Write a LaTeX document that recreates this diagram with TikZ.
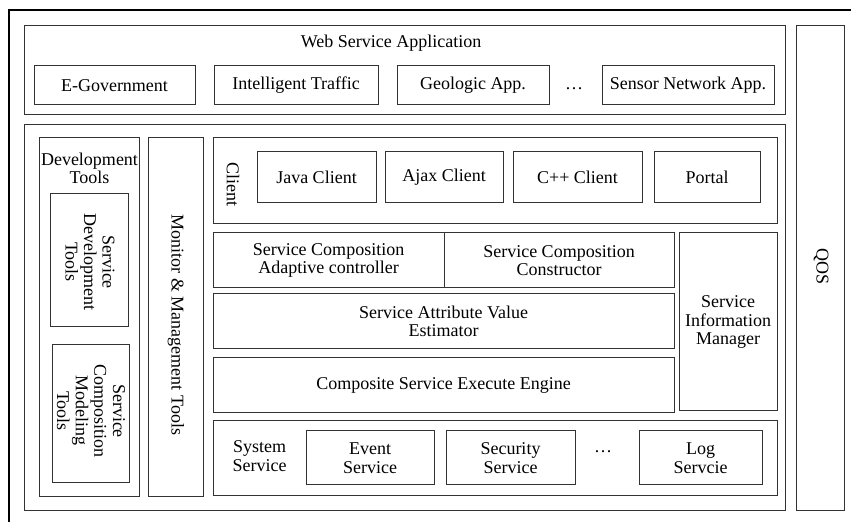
\documentclass[tikz,border=0pt]{standalone}
\usepackage{fontspec}
\setmainfont{Liberation Serif}
\newfontfamily\timesfont{Liberation Serif}

\begin{document}
\begin{tikzpicture}[x=0.5pt,y=-0.5pt,
    box/.style={draw=black!80, line width=0.5pt, inner sep=0pt, align=center},
    wh/.style 2 args={minimum width=#1*0.5pt, minimum height=#2*0.5pt},
    txt/.style={inner sep=0pt, align=center},
    font=\timesfont\fontsize{9}{9.3}\selectfont]

    \useasboundingbox (0,0) rectangle (851,522);

    % Frame
    \draw[line width=0.6pt] (851,10) -- (9,10) -- (9,522);

    % Applications
    \node[box, wh={761}{89}] (wsa) at (404.5,70.5) {};
    \node[txt] (wsatitle) at (391,43) {Web Service Application};
    \node[box, wh={161}{39}] (egov) at (114.5,85.5) {E-Government};
    \node[box, wh={164}{39}] (traffic) at (296,85.5) {Intelligent Traffic};
    \node[box, wh={152}{39}] (geo) at (473,85.5) {Geologic App.};
    \node[txt] (appdots) at (574,89) {\dots};
    \node[box, wh={172}{39}] (sensor) at (688,85.5) {Sensor Network App.};

    % QOS
    \node[box, wh={48}{485}] (qos) at (820,268.5) {};
    \node[txt, rotate=-90] (qostext) at (821,267) {QOS};

    % Platform
    \node[box, wh={761}{386}] (platform) at (404.5,318) {};

    % Tools
    \node[box, wh={100}{359}] (devtools) at (89,317.5) {};
    \node[txt] (devtext) at (89.5,168.5) {Development\\Tools};
    \node[box, wh={78}{133}] (sdt) at (89,260.5) {};
    \node[txt, rotate=-90] (sdttext) at (90,262) {Service\\Development\\Tools};
    \node[box, wh={77}{138}] (scmt) at (90.5,414) {};
    \node[txt, rotate=-90] (scmttext) at (91,411) {Service\\Composition\\Modeling\\Tools};
    \node[box, wh={55}{359}] (monitor) at (175.5,317.5) {};
    \node[txt, rotate=-90] (montext) at (176,325) {Monitor \& Management Tools};

    % Client
    \node[box, wh={564}{86}] (client) at (495,181) {};
    \node[txt, rotate=-90] (clienttext) at (233,184.5) {Client};
    \node[box, wh={119}{51}] (java) at (316.5,177.5) {Java Client};
    \node[box, wh={118}{51}] (ajax) at (444,177.5) {Ajax Client};
    \node[box, wh={129}{51}] (cpp) at (577.5,177.5) {C++ Client};
    \node[box, wh={106}{51}] (portal) at (707,177.5) {Portal};

    % Composition
    \node[box, wh={231}{55}] (adaptive) at (328.5,260.5) {Service Composition\\Adaptive controller};
    \node[box, wh={230}{55}] (constructor) at (559,260.5) {Service Composition\\Constructor};
    \node[box, wh={98}{178}] (sim) at (728,322) {Service\\Information\\Manager};
    \node[box, wh={461}{55}] (estimator) at (443.5,321.5) {Service Attribute Value\\Estimator};
    \node[box, wh={461}{55}] (engine) at (443.5,385.5) {Composite Service Execute Engine};

    % System Service
    \node[box, wh={564}{75}] (syssrv) at (495,458.5) {};
    \node[txt] (systext) at (259.5,456) {System\\Service};
    \node[box, wh={128}{54}] (event) at (370,458) {Event\\Service};
    \node[box, wh={129}{54}] (security) at (510.5,458) {Security\\Service};
    \node[txt] (sysdots) at (603,452) {\dots};
    \node[box, wh={123}{54}] (log) at (700.5,458) {Log\\Servcie};
\end{tikzpicture}
\end{document}
